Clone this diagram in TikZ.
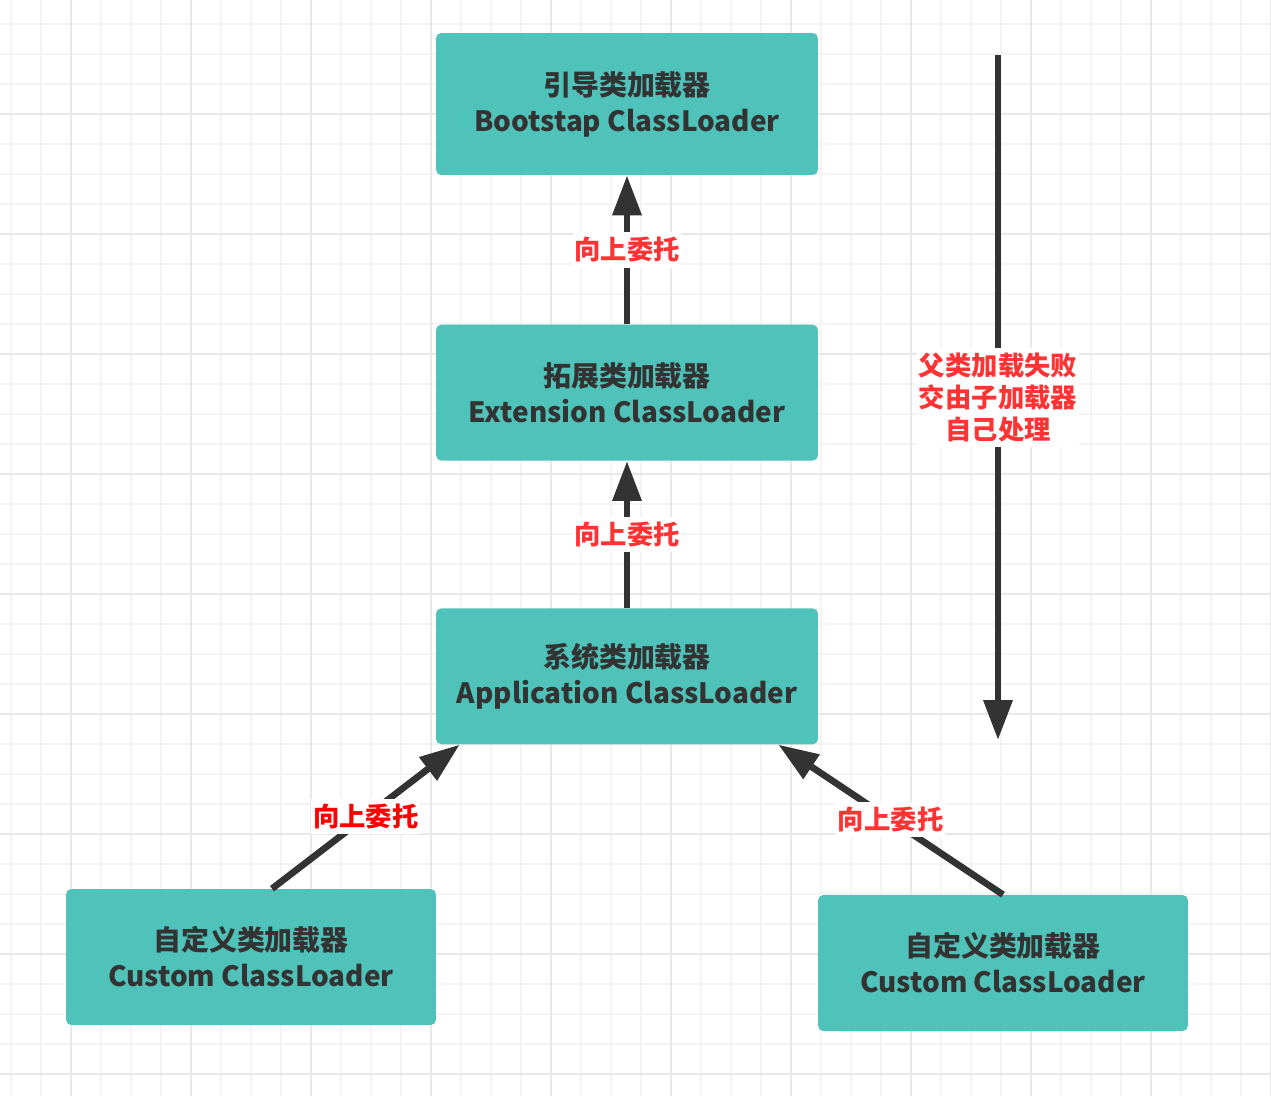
\documentclass[tikz,border=0pt]{standalone}
\usepackage{fontspec}
\setmainfont{Noto Sans CJK SC}
\usepackage{tikz}
\usetikzlibrary{arrows.meta,positioning}
\definecolor{boxteal}{RGB}{79,195,185}
\definecolor{darkgray}{RGB}{51,51,51}
\definecolor{labelred}{RGB}{255,51,51}
\definecolor{gridminor}{RGB}{244,244,244}
\definecolor{gridmajor}{RGB}{232,232,232}

\begin{document}
\begin{tikzpicture}[x=0.02cm, y=-0.02cm,
  loader/.style={rectangle, fill=boxteal, text=darkgray, align=center, rounded corners=3pt, minimum width=7.64cm, minimum height=2.72cm, font=\bfseries\fontsize{15.9}{20.5}\selectfont},
  arrow/.style={line width=3.8pt, draw=darkgray, -{Triangle[length=0.8cm, width=0.56cm]}},
  tag/.style={fill=white, text=labelred, inner xsep=1pt, inner ysep=3pt, font=\bfseries\fontsize{15}{18}\selectfont, align=center}
]
  % background and grid
  \useasboundingbox (0,0) rectangle (1271,1096);
  \fill[white] (0,0) rectangle (1271,1096);
  \foreach \gx in {11,41,...,1271} \draw[gridminor, line width=1pt] (\gx,0) -- (\gx,1096);
  \foreach \gy in {24,54,...,1096} \draw[gridminor, line width=1pt] (0,\gy) -- (1271,\gy);
  \foreach \gx in {71,191,...,1271} \draw[gridmajor, line width=1pt] (\gx,0) -- (\gx,1096);
  \foreach \gy in {114,234,...,1096} \draw[gridmajor, line width=1pt] (0,\gy) -- (1271,\gy);

  % loaders
  \node[loader, minimum height=2.84cm] (boot) at (627,104) {引导类加载器\\Bootstap ClassLoader};
  \node[loader, below=2.98cm of boot] (ext) {拓展类加载器\\Extension ClassLoader};
  \node[loader, below=2.94cm of ext] (app) {系统类加载器\\Application ClassLoader};
  \node[loader, minimum width=7.4cm] (custL) at (251,957) {自定义类加载器\\Custom ClassLoader};
  \node[loader, minimum width=7.4cm] (custR) at (1003,963) {自定义类加载器\\Custom ClassLoader};

  \coordinate (failtop) at (998,55);
  \coordinate (failbot) at (998,740);

  % delegation
  \draw[arrow] (ext) -- node[tag] {向上委托} (boot);
  \draw[arrow] (app) -- node[tag] {向上委托} (ext);
  \draw[arrow] ([xshift=0.42cm]custL.north) -- node[tag, text=red] {向上委托} ([xshift=0.48cm]app.south west);
  \draw[arrow] (custR.north) -- node[tag] {向上委托} ([xshift=-0.8cm]app.south east);
  \draw[arrow] (failtop) -- node[tag] {父类加载失败\\交由子加载器\\自己处理} (failbot);
\end{tikzpicture}
\end{document}
